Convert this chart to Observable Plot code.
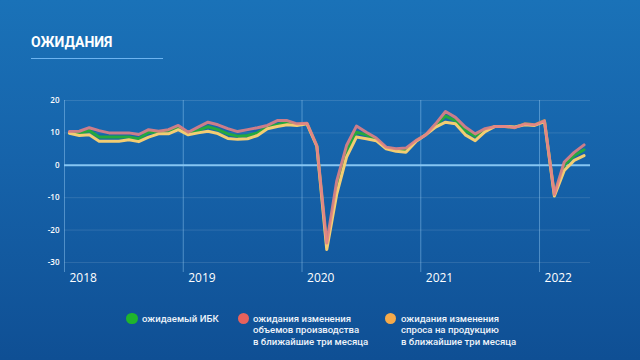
<!DOCTYPE html>
<html><head><meta charset="utf-8">
<script src="https://cdn.jsdelivr.net/npm/d3@7"></script>
<script src="https://cdn.jsdelivr.net/npm/@observablehq/plot@0.6"></script>
<style>
html,body{margin:0;padding:0;}
body{width:640px;height:360px;overflow:hidden;position:relative;
  background:linear-gradient(180deg,#1a72b8 0%,#1663aa 45%,#0f4f94 100%);
  font-family:"Open Sans",sans-serif;}
#title{position:absolute;left:31px;top:34px;color:#fff;font-family:Roboto,sans-serif;font-weight:700;font-size:14px;}
#rule{position:absolute;left:31px;top:58px;width:132px;height:1px;background:#6db4f0;}
#chart{position:absolute;left:0;top:0;}
.leg{position:absolute;top:312.5px;color:#eef3fa;font-family:Roboto,sans-serif;font-size:9.6px;font-weight:500;line-height:11.7px;white-space:nowrap;}
.dot{position:absolute;width:11.5px;height:11.5px;border-radius:50%;top:312.5px;}
</style>
</head><body>
<div id="title">ОЖИДАНИЯ</div>
<div id="rule"></div>
<div id="chart"></div>
<div id="legend"></div>
<script>
// Monthly data, Jan 2018 – May 2022
const years = ["2018", "2019", "2020", "2021", "2022"];
const ibk = [10, 9.7, 10.7, 8.7, 8.7, 8.7, 8.7, 8.2, 10.2, 10.2, 10.7, 11.6,
  9.7, 10.8, 11.9, 11, 9.7, 9, 9.2, 10, 11.8, 12.5, 13.3, 12.5,
  12.9, 6, -25, -7, 4.5, 10.2, 9.4, 7.9, 5.4, 4.7, 4.6, 7.5,
  9.4, 12.2, 15.2, 13.8, 10.7, 9, 11, 12, 12, 11.7, 12.8, 12.5,
  13.8, -9.2, 0, 3, 4.8];
const production = [10.4, 10.5, 11.6, 10.7, 10, 10, 10, 9.5, 11, 10.5, 11, 12.3,
  10.2, 11.8, 13.3, 12.5, 11.3, 10.4, 11, 11.6, 12.3, 13.8, 13.8, 12.8,
  13, 6.1, -24, -5, 6.1, 12.1, 10.2, 8.4, 5.6, 5.1, 5.3, 7.6,
  9.4, 12.8, 16.6, 14.8, 11.8, 9.7, 11.3, 12, 12, 11.6, 12.8, 12.5,
  13.8, -9, 1, 4, 6.3];
const demand = [9.9, 9.2, 9.4, 7.4, 7.4, 7.4, 7.9, 7.3, 8.7, 9.7, 9.7, 11,
  9.4, 10, 10.5, 9.8, 8.3, 8, 8.2, 9.2, 11.3, 12, 12.5, 12.3,
  12.8, 5.8, -26, -9, 2.5, 8.7, 8.2, 7.6, 5.1, 4.3, 4, 7.3,
  9.4, 11.8, 13.3, 12.8, 9.4, 7.6, 10.4, 12, 12, 11.8, 12.5, 12.3,
  13.5, -9.5, -1.6, 1.5, 3];
const seriesNames = ["ожидаемый ИБК",
  "ожидания изменения\nобъемов производства\nв ближайшие три месяца",
  "ожидания изменения\nспроса на продукцию\nв ближайшие три месяца"];
const dotColors = ["#1fb52c", "#e8625c", "#f5aa4a"];
const lineColors = ["#25a83e", "#e07f86", "#f3cd72"];
const yTicks = [20, 10, 0, -10, -20, -30];

const rows = (vals) => vals.map((v, i) => ({m: i + 0.5, v}));
const yearTicks = years.map((y, i) => i * 12);

const chart = Plot.plot({
  width: 640, height: 300,
  marginTop: 100, marginBottom: 28, marginLeft: 64, marginRight: 50,
  style: {background: "transparent", color: "#fff", fontFamily: "Open Sans, sans-serif"},
  x: {domain: [0, 53.15]},
  y: {domain: [-33.1, 20]},
  marks: [
    Plot.ruleY([20, 10, -10, -20, -30], {stroke: "#ffffff", strokeOpacity: 0.12}),
    Plot.ruleX(yearTicks, {stroke: "#9ccff7", strokeOpacity: 0.45, strokeWidth: 1}),
    Plot.ruleY([0], {stroke: "#86c6f3", strokeWidth: 2}),
    Plot.axisY({ticks: yTicks, tickSize: 0, tickPadding: 5, tickFormat: d => String(d), fontSize: 8, fontWeight: 600, label: null}),
    Plot.axisX({ticks: yearTicks, tickSize: 0, tickPadding: 1, tickFormat: d => years[d / 12], textAnchor: "start", dx: 5, fontSize: 12, label: null}),
    Plot.line(rows(ibk), {x: "m", y: "v", stroke: lineColors[0], strokeWidth: 3}),
    Plot.line(rows(demand), {x: "m", y: "v", stroke: lineColors[2], strokeWidth: 3}),
    Plot.line(rows(production), {x: "m", y: "v", stroke: lineColors[1], strokeWidth: 3, strokeOpacity: 0.9})
  ]
});
document.getElementById("chart").appendChild(chart);

const legPos = [[126, 142], [237.5, 253], [384.5, 401]];
const leg = document.getElementById("legend");
seriesNames.forEach((name, i) => {
  const d = document.createElement("div");
  d.className = "dot";
  d.style.left = legPos[i][0] + "px";
  d.style.background = dotColors[i];
  leg.appendChild(d);
  const t = document.createElement("div");
  t.className = "leg";
  t.style.left = legPos[i][1] + "px";
  t.innerHTML = name.split("\n").join("<br>");
  leg.appendChild(t);
});
</script>
</body></html>
